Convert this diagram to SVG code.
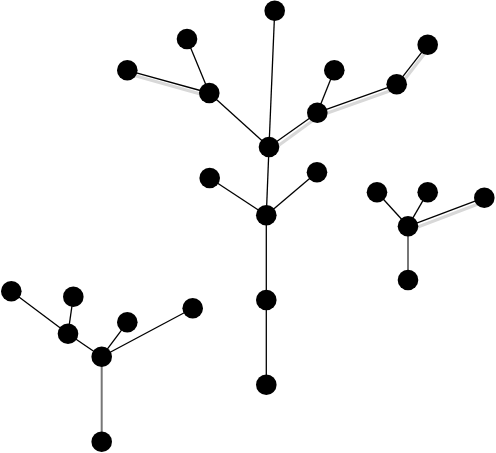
<svg xmlns="http://www.w3.org/2000/svg" width="496" height="453" viewBox="0 0 496 453">
<style>
.e{stroke:#000;stroke-width:1.3;fill:none}
.g{stroke:#777;stroke-width:2;fill:none}
.s{stroke:#d8d8d8;stroke-width:3;fill:none}
.n{fill:#000}
</style>
<rect width="496" height="453" fill="#fff"/>
<g id="shadows">
<line class="s" x1="129" y1="74" x2="211" y2="97"/>
<line class="s" x1="271" y1="151" x2="319" y2="116"/>
<line class="s" x1="319" y1="116" x2="398" y2="88"/>
<line class="s" x1="398" y1="88" x2="429" y2="48"/>
<line class="s" x1="410" y1="230" x2="486" y2="201"/>
</g>
<g id="connectors">
<line class="e" x1="274.7" y1="10.7" x2="269" y2="147"/>
<line class="e" x1="187" y1="39" x2="209.3" y2="93"/>
<line class="e" x1="127.3" y1="70.3" x2="209.3" y2="93"/>
<line class="e" x1="209.3" y1="93" x2="269" y2="147"/>
<line class="e" x1="269" y1="147" x2="317.3" y2="112.7"/>
<line class="e" x1="317.3" y1="112.7" x2="334.3" y2="70.3"/>
<line class="e" x1="317.3" y1="112.7" x2="396.7" y2="84.3"/>
<line class="e" x1="396.7" y1="84.3" x2="427.7" y2="44.7"/>
<line class="e" x1="269" y1="147" x2="266.3" y2="215.3"/>
<line class="e" x1="209.7" y1="178" x2="266.3" y2="215.3"/>
<line class="e" x1="317" y1="172.3" x2="266.3" y2="215.3"/>
<line class="e" x1="266.3" y1="215.3" x2="266.3" y2="300"/>
<line class="e" x1="266.3" y1="300" x2="266.3" y2="384.7"/>
<line class="e" x1="377" y1="192.3" x2="408" y2="226.3"/>
<line class="e" x1="427.7" y1="192.3" x2="408" y2="226.3"/>
<line class="e" x1="484.3" y1="197.7" x2="408" y2="226.3"/>
<line class="g" x1="408" y1="226.3" x2="408" y2="280"/>
<line class="e" x1="11.3" y1="291.3" x2="68" y2="333.7"/>
<line class="e" x1="73.3" y1="296.7" x2="68" y2="333.7"/>
<line class="e" x1="68" y1="333.7" x2="101.7" y2="356.7"/>
<line class="e" x1="127.3" y1="322.3" x2="101.7" y2="356.7"/>
<line class="e" x1="192.7" y1="308.3" x2="101.7" y2="356.7"/>
<line class="g" x1="101.7" y1="356.7" x2="101.7" y2="441.7"/>
</g>
<g id="n1"><circle class="n" cx="274.7" cy="10.7" r="10.3"/></g>
<g id="n2"><circle class="n" cx="187" cy="39" r="10.3"/></g>
<g id="n3"><circle class="n" cx="127.3" cy="70.3" r="10.3"/></g>
<g id="n4"><circle class="n" cx="209.3" cy="93" r="10.3"/></g>
<g id="n5"><circle class="n" cx="269" cy="147" r="10.3"/></g>
<g id="n6"><circle class="n" cx="334.3" cy="70.3" r="10.3"/></g>
<g id="n7"><circle class="n" cx="427.7" cy="44.7" r="10.3"/></g>
<g id="n8"><circle class="n" cx="396.7" cy="84.3" r="10.3"/></g>
<g id="n9"><circle class="n" cx="317.3" cy="112.7" r="10.3"/></g>
<g id="n10"><circle class="n" cx="209.7" cy="178" r="10.3"/></g>
<g id="n11"><circle class="n" cx="317" cy="172.3" r="10.3"/></g>
<g id="n12"><circle class="n" cx="266.3" cy="215.3" r="10.3"/></g>
<g id="n13"><circle class="n" cx="266.3" cy="300" r="10.3"/></g>
<g id="n14"><circle class="n" cx="266.3" cy="384.7" r="10.3"/></g>
<g id="n15"><circle class="n" cx="377" cy="192.3" r="10.3"/></g>
<g id="n16"><circle class="n" cx="427.7" cy="192.3" r="10.3"/></g>
<g id="n17"><circle class="n" cx="484.3" cy="197.7" r="10.3"/></g>
<g id="n18"><circle class="n" cx="408" cy="226.3" r="10.3"/></g>
<g id="n19"><circle class="n" cx="408" cy="280" r="10.3"/></g>
<g id="n20"><circle class="n" cx="11.3" cy="291.3" r="10.3"/></g>
<g id="n21"><circle class="n" cx="73.3" cy="296.7" r="10.3"/></g>
<g id="n22"><circle class="n" cx="127.3" cy="322.3" r="10.3"/></g>
<g id="n23"><circle class="n" cx="192.7" cy="308.3" r="10.3"/></g>
<g id="n24"><circle class="n" cx="68" cy="333.7" r="10.3"/></g>
<g id="n25"><circle class="n" cx="101.7" cy="356.7" r="10.3"/></g>
<g id="n26"><circle class="n" cx="101.7" cy="441.7" r="10.3"/></g>
</svg>
